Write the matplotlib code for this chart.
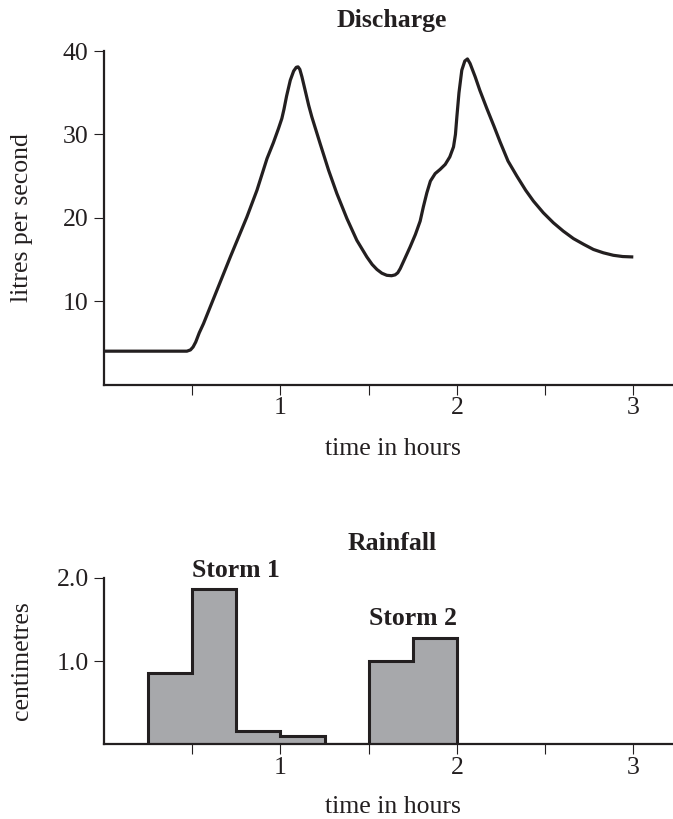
import matplotlib.pyplot as plt

# discharge hydrograph (hours, litres per second)
time_h = [0.0, 0.43, 0.47, 0.49, 0.505, 0.52, 0.54, 0.564, 0.621, 0.716,
          0.81, 0.867, 0.924, 0.96, 0.989, 1.008, 1.02, 1.035, 1.056, 1.075,
          1.09, 1.1, 1.11, 1.122, 1.14, 1.16, 1.178, 1.225, 1.273, 1.32,
          1.377, 1.433, 1.49, 1.52, 1.547, 1.575, 1.603, 1.63, 1.65, 1.665,
          1.679, 1.705, 1.735, 1.765, 1.792, 1.81, 1.83, 1.85, 1.877, 1.905,
          1.934, 1.96, 1.981, 1.992, 2.0, 2.012, 2.028, 2.045, 2.06, 2.075,
          2.104, 2.13, 2.17, 2.21, 2.245, 2.29, 2.34, 2.39, 2.434, 2.49,
          2.547, 2.603, 2.661, 2.72, 2.774, 2.83, 2.887, 2.94, 3.0]
discharge = [4.0, 4.0, 4.0, 4.15, 4.5, 5.1, 6.2, 7.3, 10.3, 15.3,
             20.1, 23.3, 27.1, 29.0, 30.7, 31.9, 33.0, 34.6, 36.5, 37.6,
             38.05, 38.1, 37.8, 36.9, 35.3, 33.5, 32.1, 28.9, 25.7, 22.9,
             19.9, 17.3, 15.3, 14.4, 13.8, 13.35, 13.1, 13.05, 13.15, 13.4,
             13.9, 15.1, 16.5, 18.0, 19.6, 21.3, 23.0, 24.4, 25.3, 25.8,
             26.4, 27.3, 28.5, 30.0, 32.1, 35.0, 37.7, 38.8, 39.05, 38.5,
             36.9, 35.3, 33.1, 31.0, 29.1, 26.8, 25.0, 23.3, 22.0, 20.6,
             19.4, 18.4, 17.5, 16.8, 16.2, 15.8, 15.5, 15.35, 15.3]

# rainfall per quarter hour (cm)
rain_edges = [0.25, 0.5, 0.75, 1.0, 1.25, 1.5, 1.75, 2.0]
rain_cm = [0.86, 1.87, 0.165, 0.1, 0.0, 1.0, 1.28]

hour_ticks = [0.5, 1, 1.5, 2, 2.5, 3]
hour_labels = ['', '1', '', '2', '', '3']
discharge_ticks = [10, 20, 30, 40]
rain_ticks = [1.0, 2.0]
rain_tick_labels = ['1.0', '2.0']

ink = '#231f20'
plt.rcParams['font.family'] = ['Liberation Serif', 'DejaVu Serif']
plt.rcParams['font.size'] = 18.5
plt.rcParams['text.color'] = ink
plt.rcParams['axes.labelcolor'] = ink

fig = plt.figure(figsize=(6.73, 8.19), dpi=100)
ax1 = fig.add_axes([0.1545, 0.5305, 0.8455, 0.4072])
ax2 = fig.add_axes([0.1545, 0.0912, 0.8455, 0.2034])


def style_axes(ax):
    for side in ['top', 'right']:
        ax.spines[side].set_visible(False)
    for side in ['left', 'bottom']:
        ax.spines[side].set_linewidth(1.6)
        ax.spines[side].set_color(ink)
    ax.tick_params(axis='x', direction='out', length=7, width=0.8, pad=2,
                   colors=ink, labelcolor=ink)
    ax.tick_params(axis='y', direction='out', length=7, width=0.8, pad=4,
                   colors=ink, labelcolor=ink)
    ax.set_xlim(0, 3.225)
    ax.set_xticks(hour_ticks)
    ax.set_xticklabels(hour_labels)
    ax.xaxis.label.set_verticalalignment('baseline')


# Discharge
ax1.plot(time_h, discharge, color=ink, lw=2.3, solid_joinstyle='round',
         solid_capstyle='butt')
ax1.set_ylim(0, 40)
ax1.set_yticks(discharge_ticks)
style_axes(ax1)
ax1.set_xlabel('time in hours')
ax1.xaxis.set_label_coords(0.507, -0.211)
ax1.set_ylabel('litres per second')
ax1.yaxis.set_label_coords(-0.125, 0.5)
ax1.text(0.506, 1.073, 'Discharge', transform=ax1.transAxes, ha='center',
         va='baseline', fontweight='bold')

# Rainfall
ax2.stairs(rain_cm, rain_edges, fill=True, facecolor='#a7a8ab',
           edgecolor=ink, linewidth=2.2, joinstyle='miter')
ax2.set_ylim(0, 2.0)
ax2.set_yticks(rain_ticks)
ax2.set_yticklabels(rain_tick_labels)
style_axes(ax2)
ax2.set_xlabel('time in hours')
ax2.xaxis.set_label_coords(0.507, -0.412)
ax2.set_ylabel('centimetres')
ax2.yaxis.set_label_coords(-0.125, 0.5)
ax2.text(0.506, 1.166, 'Rainfall', transform=ax2.transAxes, ha='center',
         va='baseline', fontweight='bold')
ax2.text(0.75, 2.01, 'Storm 1', ha='center', va='baseline', fontweight='bold',
         clip_on=False)
ax2.text(1.75, 1.43, 'Storm 2', ha='center', va='baseline', fontweight='bold')

fig.savefig('out.png', dpi=100)
